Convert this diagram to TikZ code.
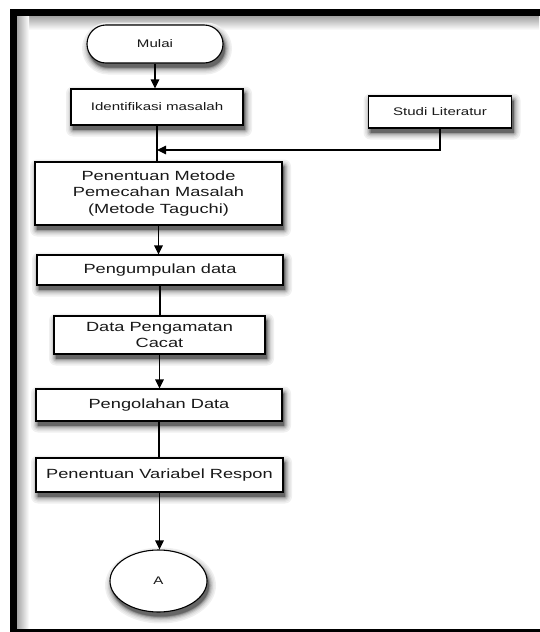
\documentclass[tikz,border=0pt]{standalone}
\usepackage{fontspec}
\setmainfont{Liberation Sans}[FakeStretch=1.37]
\usetikzlibrary{arrows.meta,shapes.geometric}
\newcommand\boxshadow[5]{% x y w h corner
  \foreach \r/\c in {7/6,5.5/11,4/18,2.8/27,1.6/38,0.6/50,0/60}{
    \fill[black!\c, rounded corners={#5+\r}] ({#1+2-#3/2-\r},{#2+4.5-#4/2-\r}) rectangle ({#1+2+#3/2+\r},{#2+4.5+#4/2+\r});
  }}
\newcommand\ellshadow[4]{% x y rx ry
  \foreach \r/\c in {7/6,5.5/11,4/18,2.8/27,1.6/38,0.6/50,0/60}{
    \fill[black!\c] ({#1+2},{#2+4.5}) ellipse [x radius={#3+\r}, y radius={#4+\r}];
  }}
\begin{document}
\begin{tikzpicture}[x=1pt,y=-1pt,
  box/.style={draw=black, line width=1.1pt, fill=white, inner sep=0pt, align=center,
    font=\fontsize{13.3}{16.7}\selectfont, text=black!90},
  smallbox/.style={box, font=\fontsize{11}{13}\selectfont},
  term/.style={smallbox, rounded corners=19pt},
  conn/.style={draw=black, line width=1.1pt},
  arr/.style={conn, -{Triangle[length=9pt,width=8.5pt]}},
  frame/.style={line width=7pt, line cap=rect},
]
\useasboundingbox (0,0) rectangle (539,632);
% frame with inner shadow
\shade[top color=gray!70, bottom color=white] (17,16.5) rectangle (539,30);
\shade[left color=gray!70, right color=white] (17,16.5) rectangle (29,632);
\draw[frame] (539,12.5) -- (13.5,12.5) -- (13.5,632.5) -- (539,632.5);

% shadows
\boxshadow{155}{44}{136}{38}{19}
\boxshadow{157}{107}{172}{36}{0}
\boxshadow{440}{112}{143}{32}{0}
\boxshadow{158.5}{193.5}{247}{63}{0}
\boxshadow{160}{270}{246}{30}{0}
\boxshadow{159.5}{335}{211}{38}{0}
\boxshadow{159}{405}{246}{32}{0}
\boxshadow{159.5}{475}{247}{34}{0}
\ellshadow{158.5}{581}{48.5}{31}

% nodes
\node[term, minimum width=136pt, minimum height=38pt] (mulai) at (155,44) {Mulai};
\node[smallbox, minimum width=172pt, minimum height=36pt] (ident) at (157,107) {Identifikasi masalah};
\node[smallbox, minimum width=143pt, minimum height=32pt] (studi) at (440,112) {Studi Literatur};
\node[box, minimum width=247pt, minimum height=63pt] (metode) at (158.5,193.5) {Penentuan Metode\\Pemecahan Masalah\\(Metode Taguchi)};
\node[box, minimum width=246pt, minimum height=30pt] (kumpul) at (160,270) {Pengumpulan data};
\node[box, minimum width=211pt, minimum height=38pt] (cacat) at (159.5,335) {Data Pengamatan\\Cacat};
\node[box, minimum width=246pt, minimum height=32pt] (olah) at (159,405) {Pengolahan Data};
\node[box, minimum width=247pt, minimum height=34pt] (respon) at (159.5,475) {Penentuan Variabel Respon};
\node[smallbox, ellipse, minimum width=97pt, minimum height=62pt] (A) at (158.5,581) {A};

% connectors
\coordinate (j) at (ident.south |- 0,150);
\draw[arr] (mulai.south) -- (mulai.south |- ident.north);
\draw[conn] (ident.south) -- (ident.south |- metode.north);
\draw[arr] (studi.south) |- (j);
\draw[arr] (metode.south) -- (metode.south |- kumpul.north);
\draw[conn] (kumpul.south) -- (kumpul.south |- cacat.north);
\draw[arr] (cacat.south) -- (cacat.south |- olah.north);
\draw[conn] (olah.south) -- (olah.south |- respon.north);
\draw[arr] (respon.south) -- (respon.south |- A.north);
\end{tikzpicture}
\end{document}
